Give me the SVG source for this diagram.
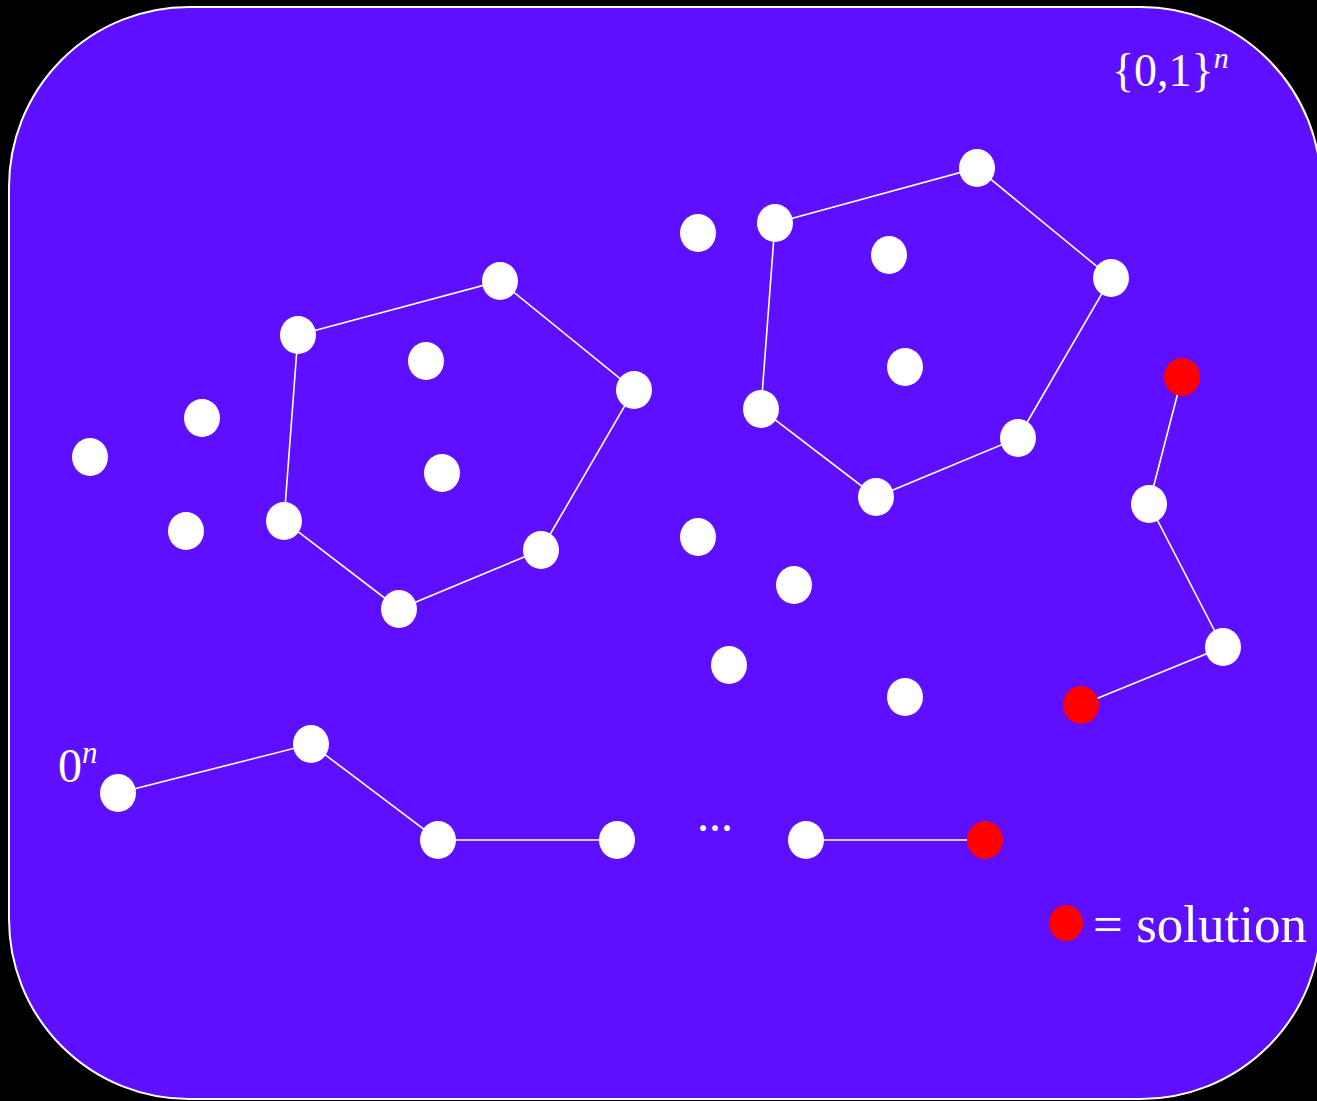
<svg xmlns="http://www.w3.org/2000/svg" width="1317" height="1101" viewBox="0 0 1317 1101">
<style>
.n{fill:#ffffff}
.s{fill:#ff0000}
.e{stroke:#ffffff;stroke-width:1.6;fill:none}
.t{fill:#ffffff;font-family:"Liberation Serif","Times New Roman",serif}
</style>
<rect x="0" y="0" width="1317" height="1101" fill="#000000"/>
<rect id="space" x="9" y="7" width="1312" height="1092" rx="180" ry="180" fill="#5e0fff" stroke="#ffffff" stroke-width="2"/>
<g id="connectors" class="e">
<polyline points="298,335 500,281 634,390 541,550 399,609 284,521 298,335"/>
<polyline points="775,223 977,168 1111,278 1018,438 876,497 761,409 775,223"/>
<polyline points="1182,377 1149,504 1223,647 1081,705"/>
<polyline points="118,793 311,744 438,840 617,840"/>
<line x1="806" y1="840" x2="985" y2="840"/>
</g>
<g id="nodes">
<ellipse id="a1" class="n" cx="298" cy="335" rx="18" ry="19"/>
<ellipse id="a2" class="n" cx="500" cy="281" rx="18" ry="19"/>
<ellipse id="a3" class="n" cx="634" cy="390" rx="18" ry="19"/>
<ellipse id="a4" class="n" cx="541" cy="550" rx="18" ry="19"/>
<ellipse id="a5" class="n" cx="399" cy="609" rx="18" ry="19"/>
<ellipse id="a6" class="n" cx="284" cy="521" rx="18" ry="19"/>
<ellipse id="a7" class="n" cx="426" cy="361" rx="18" ry="19"/>
<ellipse id="a8" class="n" cx="442" cy="473" rx="18" ry="19"/>
<ellipse id="i1" class="n" cx="90" cy="457" rx="18" ry="19"/>
<ellipse id="i2" class="n" cx="202" cy="418" rx="18" ry="19"/>
<ellipse id="i3" class="n" cx="186" cy="531" rx="18" ry="19"/>
<ellipse id="b1" class="n" cx="775" cy="223" rx="18" ry="19"/>
<ellipse id="b2" class="n" cx="977" cy="168" rx="18" ry="19"/>
<ellipse id="b3" class="n" cx="1111" cy="278" rx="18" ry="19"/>
<ellipse id="b4" class="n" cx="1018" cy="438" rx="18" ry="19"/>
<ellipse id="b5" class="n" cx="876" cy="497" rx="18" ry="19"/>
<ellipse id="b6" class="n" cx="761" cy="409" rx="18" ry="19"/>
<ellipse id="b7" class="n" cx="889" cy="255" rx="18" ry="19"/>
<ellipse id="b8" class="n" cx="905" cy="367" rx="18" ry="19"/>
<ellipse id="i4" class="n" cx="698" cy="233" rx="18" ry="19"/>
<ellipse id="i5" class="n" cx="698" cy="537" rx="18" ry="19"/>
<ellipse id="i6" class="n" cx="794" cy="585" rx="18" ry="19"/>
<ellipse id="i7" class="n" cx="729" cy="665" rx="18" ry="19"/>
<ellipse id="i8" class="n" cx="905" cy="697" rx="18" ry="19"/>
<ellipse id="c1" class="s" cx="1182" cy="377" rx="18" ry="19"/>
<ellipse id="c2" class="n" cx="1149" cy="504" rx="18" ry="19"/>
<ellipse id="c3" class="n" cx="1223" cy="647" rx="18" ry="19"/>
<ellipse id="c4" class="s" cx="1081" cy="705" rx="18" ry="19"/>
<ellipse id="d1" class="n" cx="118" cy="793" rx="18" ry="19"/>
<ellipse id="d2" class="n" cx="311" cy="744" rx="18" ry="19"/>
<ellipse id="d3" class="n" cx="438" cy="840" rx="18" ry="19"/>
<ellipse id="d4" class="n" cx="617" cy="840" rx="18" ry="19"/>
<ellipse id="d5" class="n" cx="806" cy="840" rx="18" ry="19"/>
<ellipse id="d6" class="s" cx="985" cy="840" rx="18" ry="19"/>
<ellipse id="legend" class="s" cx="1066" cy="923" rx="17" ry="18"/>
</g>
<g id="labels">
<text class="t" x="1112" y="86" font-size="46">{0,1}<tspan font-style="italic" font-size="30" dy="-18">n</tspan></text>
<text class="t" x="58" y="782" font-size="48">0<tspan font-style="italic" font-size="31" dy="-19">n</tspan></text>
<text class="t" x="697" y="831" font-size="48">...</text>
<text class="t" x="1093" y="942" font-size="53">= solution</text>
</g>
</svg>
